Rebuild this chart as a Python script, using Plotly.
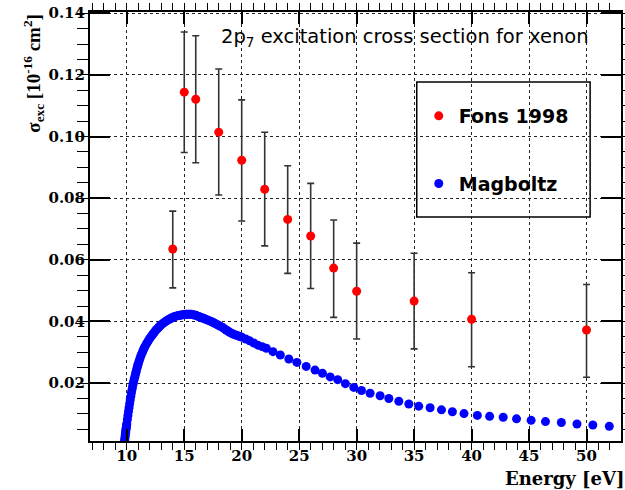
import plotly.graph_objects as go

# ---- data ----
fons_energy = [14, 15, 16, 18, 20, 22, 24, 26, 28, 30, 35, 40, 50]
fons_sigma = [0.0635, 0.1144, 0.1121, 0.1014, 0.0923, 0.0829, 0.0731, 0.0677,
              0.0573, 0.0498, 0.0466, 0.0407, 0.0372]
fons_upper = [0.0758, 0.1339, 0.1327, 0.1219, 0.1119, 0.1014, 0.0905, 0.0848,
              0.0729, 0.0654, 0.0621, 0.0558, 0.0520]
fons_lower = [0.0509, 0.0948, 0.0915, 0.0810, 0.0726, 0.0645, 0.0556, 0.0507,
              0.0413, 0.0343, 0.0311, 0.0253, 0.0219]

mag_energy = [9.80, 9.82, 9.84, 9.86, 9.88, 9.90, 9.92, 9.94, 9.96, 9.98,
              10.00, 10.05, 10.10, 10.15, 10.20, 10.25, 10.30, 10.35, 10.40, 10.45,
              10.50, 10.55, 10.60, 10.65, 10.70, 10.75, 10.80, 10.85, 10.90, 10.95,
              11.00, 11.08, 11.15, 11.22, 11.30, 11.38, 11.45, 11.52, 11.60, 11.70,
              11.80, 11.90, 12.00, 12.10, 12.20, 12.30, 12.40, 12.50, 12.60, 12.70,
              12.80, 12.90, 13.00, 13.12, 13.25, 13.38, 13.50, 13.62, 13.75, 13.88,
              14.00, 14.12, 14.25, 14.38, 14.50, 14.62, 14.75, 14.88, 15.00, 15.12,
              15.25, 15.38, 15.50, 15.62, 15.75, 15.88, 16.00, 16.12, 16.25, 16.38,
              16.50, 16.62, 16.75, 16.88, 17.00, 17.15, 17.30, 17.45, 17.60, 17.75,
              17.90, 18.05, 18.20, 18.35, 18.50, 18.65, 18.80, 18.95, 19.10, 19.25,
              19.40, 19.55, 19.70, 19.85, 20.00, 20.35, 20.69, 21.05, 21.41, 21.78,
              22.14, 22.72, 23.36, 24.10, 24.80, 25.61,
              26.38, 27.02, 27.70, 28.35, 29.02, 29.75, 30.42, 31.17, 32.04, 32.80,
              33.67, 34.54, 35.40, 36.39, 37.38, 38.33, 39.34, 40.50, 41.57, 42.75,
              43.91, 45.18, 46.43, 47.81, 49.17, 50.55, 51.98]
mag_sigma = [0.0010, 0.0016, 0.0022, 0.0028, 0.0034, 0.0040, 0.0046, 0.0052, 0.0057, 0.0063,
             0.0068, 0.0082, 0.0095, 0.0108, 0.0120, 0.0133, 0.0145, 0.0157, 0.0168, 0.0178,
             0.0188, 0.0197, 0.0205, 0.0213, 0.0220, 0.0228, 0.0235, 0.0243, 0.0250, 0.0257,
             0.0263, 0.0272, 0.0280, 0.0288, 0.0295, 0.0302, 0.0308, 0.0314, 0.0320, 0.0327,
             0.0333, 0.0339, 0.0345, 0.0350, 0.0355, 0.0360, 0.0365, 0.0370, 0.0374, 0.0378,
             0.0382, 0.0386, 0.0389, 0.0393, 0.0396, 0.0400, 0.0403, 0.0406, 0.0408, 0.0411,
             0.0413, 0.0415, 0.0417, 0.0418, 0.0419, 0.0420, 0.0421, 0.0422, 0.0422, 0.0423,
             0.0423, 0.0423, 0.0423, 0.0423, 0.0422, 0.0421, 0.0420, 0.0418, 0.0416, 0.0414,
             0.0412, 0.0411, 0.0409, 0.0407, 0.0405, 0.0403, 0.0400, 0.0398, 0.0395, 0.0392,
             0.0389, 0.0386, 0.0383, 0.0380, 0.0376, 0.0372, 0.0369, 0.0365, 0.0362, 0.0359,
             0.0357, 0.0355, 0.0353, 0.0351, 0.0349, 0.0343, 0.0337, 0.0330, 0.0323, 0.0318,
             0.0313, 0.0302, 0.0291, 0.0278, 0.0267, 0.0254,
             0.0242, 0.0232, 0.0220, 0.0211, 0.0198, 0.0186, 0.0176, 0.0167, 0.0159, 0.0150,
             0.0141, 0.0132, 0.0125, 0.0120, 0.0113, 0.0107, 0.0101, 0.0095, 0.0092, 0.0089,
             0.0084, 0.0079, 0.0075, 0.0072, 0.0067, 0.0064, 0.0060]

x_ticks = [10, 15, 20, 25, 30, 35, 40, 45, 50]
y_ticks = [0.02, 0.04, 0.06, 0.08, 0.10, 0.12, 0.14]
y_tick_labels = ["0.02", "0.04", "0.06", "0.08", "0.10", "0.12", "0.14"]

err_plus = [u - v for u, v in zip(fons_upper, fons_sigma)]
err_minus = [v - l for v, l in zip(fons_sigma, fons_lower)]

fig = go.Figure()
fig.add_trace(go.Scatter(
    x=fons_energy, y=fons_sigma, mode="markers", name="Fons 1998",
    legendgroup="a",
    marker=dict(color="#ff0000", size=9),
    error_y=dict(type="data", symmetric=False, array=err_plus, arrayminus=err_minus,
                 color="#333333", thickness=1.6, width=3.5),
))
fig.add_trace(go.Scatter(
    x=mag_energy, y=mag_sigma, mode="markers", name="Magboltz",
    legendgroup="b",
    marker=dict(color="#0000ff", size=9),
))

W, H = 625, 490
ml, mr, mt, mb = 90, 2, 12, 49
pw = W - ml - mr
ph = H - mt - mb

def px_x(p):
    return (p - ml) / pw

def px_y(p):
    return 1 - (p - mt) / ph

axis_common = dict(
    showline=True, linecolor="black", linewidth=2, mirror="allticks",
    ticks="inside", tickcolor="black",
    showgrid=True, gridcolor="#222222", gridwidth=1, griddash="dot",
    zeroline=False,
    tickfont=dict(family="DejaVu Serif", size=15, color="black", weight="bold"),
)

fig.update_xaxes(
    range=[6.8, 53.0], tickvals=x_ticks, ticklen=12, tickwidth=1.5,
    minor=dict(dtick=1, ticklen=7, tickcolor="black", tickwidth=1.2, showgrid=False),
    **axis_common,
)
fig.update_yaxes(
    range=[0.0012, 0.1404], tickvals=y_ticks, ticktext=y_tick_labels,
    ticklen=20, tickwidth=1.5,
    minor=dict(dtick=0.005, tick0=0, ticklen=11, tickcolor="black", tickwidth=1.2, showgrid=False),
    **axis_common,
)

# legend box
fig.add_shape(type="rect", xref="paper", yref="paper",
              x0=px_x(418), x1=px_x(592), y0=px_y(217), y1=px_y(82),
              line=dict(color="black", width=1.5), fillcolor="white", layer="below")

fig.update_layout(
    width=W, height=H,
    margin=dict(l=ml, r=mr, t=mt, b=mb),
    paper_bgcolor="white", plot_bgcolor="rgba(0,0,0,0)",
    showlegend=True,
    legend=dict(
        x=px_x(420), y=px_y(97), xanchor="left", yanchor="top",
        bgcolor="rgba(0,0,0,0)", borderwidth=0,
        font=dict(family="DejaVu Sans", size=19, color="black", weight="bold"),
        tracegroupgap=40, itemsizing="trace",
    ),
    annotations=[
        dict(text="2p<sub>7</sub> excitation cross section for xenon",
             xref="paper", yref="paper", x=px_x(219), y=px_y(38),
             xanchor="left", yanchor="middle", showarrow=False,
             font=dict(family="DejaVu Sans", size=19.5, color="black")),
        dict(text="σ<sub>exc</sub> [10<sup>-16</sup> cm<sup>2</sup>]",
             xref="paper", yref="paper", x=px_x(33), y=1.0,
             xanchor="center", yanchor="top", textangle=-90, showarrow=False,
             font=dict(family="Liberation Serif", size=19, color="black", weight="bold")),
        dict(text="Energy [eV]",
             xref="paper", yref="paper", x=1.0, y=px_y(478), xshift=6,
             xanchor="right", yanchor="middle", showarrow=False,
             font=dict(family="DejaVu Serif", size=18, color="black", weight="bold")),
    ],
)

fig.write_html("out.html")
